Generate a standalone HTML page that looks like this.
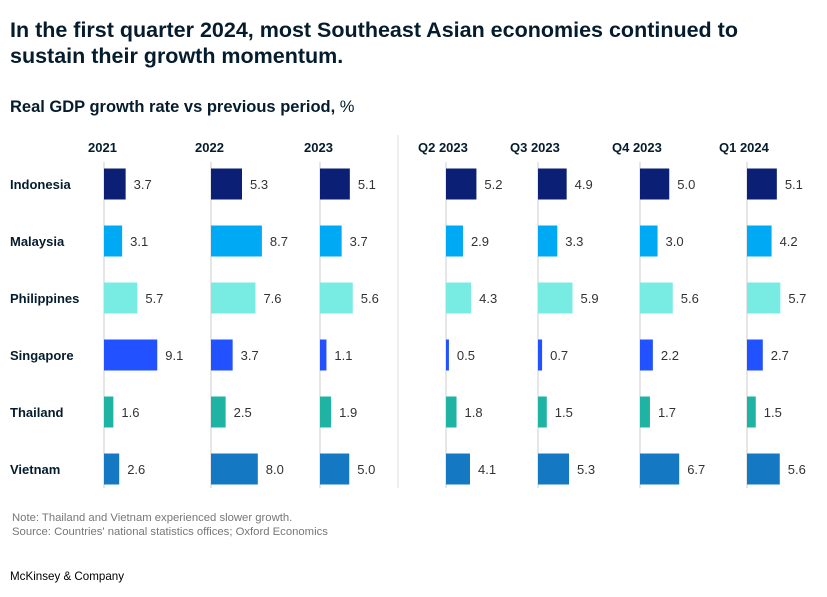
<!DOCTYPE html>
<html><head><meta charset="utf-8"><style>
body{margin:0;background:#fff;font-family:"Liberation Sans",sans-serif;}
#wrap{position:relative;width:827px;height:597px;overflow:hidden;}
.t{position:absolute;white-space:nowrap;color:#000;}
</style></head><body>
<div id="wrap">
<div class="t" style="left:10px;top:17px;font-size:21.5px;font-weight:bold;line-height:26px;color:#051c2c">In the first quarter 2024, most Southeast Asian economies continued to<br>sustain their growth momentum.</div>
<div class="t" style="left:10px;top:98px;font-size:16.5px;font-weight:bold;color:#051c2c">Real GDP growth rate vs previous period, <span style="font-weight:normal">%</span></div>
<svg id="chart" width="827" height="597" style="position:absolute;left:0;top:0"></svg>
<div class="t" style="left:12px;top:512px;font-size:11.3px;color:#777;line-height:13.5px">Note: Thailand and Vietnam experienced slower growth.<br>Source: Countries' national statistics offices; Oxford Economics</div>
<div class="t" style="left:10px;top:570px;font-size:11.6px;color:#000">McKinsey &amp; Company</div>
</div>
<script>
const countries=["Indonesia","Malaysia","Philippines","Singapore","Thailand","Vietnam"];
const periods=["2021","2022","2023","Q2 2023","Q3 2023","Q4 2023","Q1 2024"];
const v2021=[3.7,3.1,5.7,9.1,1.6,2.6];
const v2022=[5.3,8.7,7.6,3.7,2.5,8.0];
const v2023=[5.1,3.7,5.6,1.1,1.9,5.0];
const vQ2=[5.2,2.9,4.3,0.5,1.8,4.1];
const vQ3=[4.9,3.3,5.9,0.7,1.5,5.3];
const vQ4=[5.0,3.0,5.6,2.2,1.7,6.7];
const vQ1=[5.1,4.2,5.7,2.7,1.5,5.6];
const series=[v2021,v2022,v2023,vQ2,vQ3,vQ4,vQ1];
const colors=["#0b1f75","#00a9f4","#78ebe3","#2251ff","#1fb3a4","#1578c2"];
const colX=[104,211,320,446,538,640,747];
const svg=document.getElementById('chart');
const NS='http://www.w3.org/2000/svg';
const sx=v=>v*5.85;
const rowY=i=>184+i*57;
function mk(tag,attrs,txt){const e=document.createElementNS(NS,tag);for(const k in attrs)e.setAttribute(k,attrs[k]);if(txt!==undefined)e.textContent=txt;svg.appendChild(e);return e;}
const sep=mk('line',{x1:398,x2:398,y1:135,y2:488,stroke:'#ddd','stroke-width':1});


countries.forEach((c,i)=>{
 const t=mk('text',{x:10,y:rowY(i)+5,'font-size':13,'font-weight':'bold',fill:'#051c2c','font-family':'Liberation Sans'},c);
 
 
});
periods.forEach((p,j)=>{
 const x0=colX[j];
 const h=mk('text',{x:x0-(j<3?16:28),y:152,'font-size':13,'font-weight':'bold',fill:'#051c2c','font-family':'Liberation Sans'},p);
 
 
 const ax=mk('line',{x1:x0,x2:x0,y1:162,y2:488,stroke:'#ccc','stroke-width':1});
 
 
 series[j].forEach((v,i)=>{
  const y=rowY(i);
  const r=mk('rect',{x:x0,y:y-15.5,width:sx(v),height:31,fill:colors[i]});
  
  
  const l=mk('text',{x:x0+sx(v)+8,y:y+5,'font-size':13,fill:'#333','font-family':'Liberation Sans'},v.toFixed(1));
  
  
 });
});
</script>
</body></html>
